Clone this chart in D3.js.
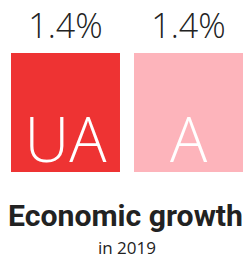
<!DOCTYPE html>
<html>
<head>
<meta charset="utf-8">
<script src="https://cdn.jsdelivr.net/npm/d3@7"></script>
<style>
  html, body { margin: 0; padding: 0; background: #fff; }
  svg { display: block; }
</style>
</head>
<body>
<svg id="chart"></svg>
<script>
const categories = ["UA", "A"];
const values = [1.4, 1.4];
const valueLabels = ["1.4%", "1.4%"];
const colors = ["#ee3333", "#fdb4bb"];
const title = "Economic growth";
const subtitle = "in 2019";

let width = 248,
    height = 258;

let chart = d3.select("#chart")
  .attr("width", width)
  .attr("height", height);

let x = d3.scaleBand()
  .domain(categories)
  .range([11, 243])
  .paddingInner(0.114);

let y = d3.scaleLinear()
  .domain([0, 1.4])
  .range([172, 53]);

let data = categories.map((c, i) => ({ cat: c, value: values[i], label: valueLabels[i], color: colors[i] }));

let bars = chart.selectAll("g.bar")
  .data(data)
  .enter()
  .append("g")
  .attr("class", "bar");

bars.append("rect")
  .attr("x", d => x(d.cat))
  .attr("y", d => y(d.value))
  .attr("width", x.bandwidth())
  .attr("height", d => y(0) - y(d.value))
  .attr("fill", d => d.color);

bars.append("text")
  .attr("x", d => x(d.cat) + x.bandwidth() / 2)
  .attr("y", d => y(d.value) - 15)
  .attr("text-anchor", "middle")
  .attr("font-family", "'Open Sans', sans-serif")
  .attr("font-weight", 300)
  .attr("font-size", 34)
  .attr("fill", "#222")
  .text(d => d.label);

bars.append("text")
  .attr("x", d => x(d.cat) + x.bandwidth() / 2)
  .attr("y", y(0) - 10)
  .attr("text-anchor", "middle")
  .attr("font-family", "'Open Sans', sans-serif")
  .attr("font-weight", 300)
  .attr("font-size", 62)
  .attr("fill", "#fff")
  .text(d => d.cat);

// title: fit to the span of the bars
let t = chart.append("text")
  .attr("x", 125.5)
  .attr("y", 226)
  .attr("text-anchor", "middle")
  .attr("font-family", "Roboto, sans-serif")
  .attr("font-weight", 700)
  .attr("font-size", 28)
  .attr("fill", "#222")
  .text(title);
let tw = t.node().getComputedTextLength();
t.attr("font-size", 28 * 235 / tw);

chart.append("text")
  .attr("x", 127)
  .attr("y", 254)
  .attr("text-anchor", "middle")
  .attr("font-family", "'Open Sans', sans-serif")
  .attr("font-size", 17)
  .attr("fill", "#222")
  .text(subtitle);
</script>
</body>
</html>
